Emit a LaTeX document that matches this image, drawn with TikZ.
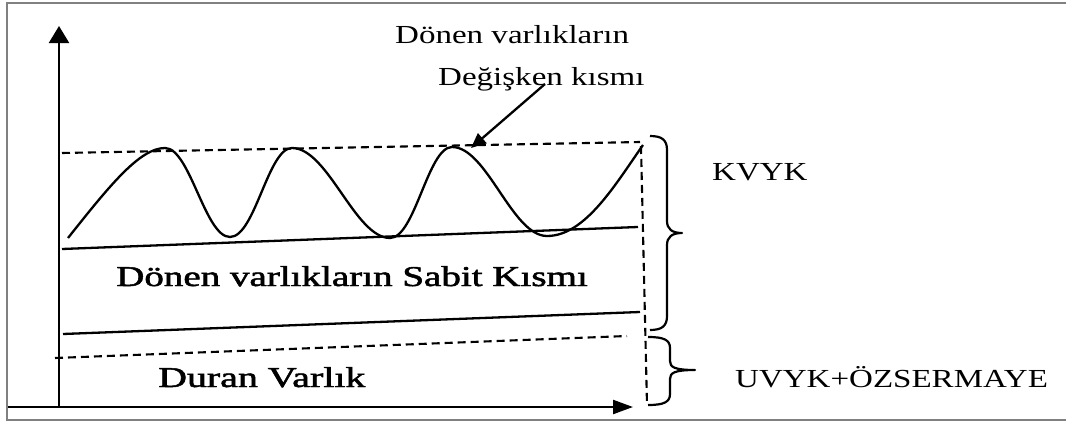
\documentclass[tikz,border=0pt]{standalone}
\usepackage{fontspec}
\setmainfont{Liberation Serif}
\newfontfamily\semibold[FakeBold=1.6]{Liberation Serif}
\usetikzlibrary{arrows.meta}
\newcommand{\hstretch}[2][1.27]{\scalebox{#1}[1]{#2}}
\tikzset{
  lbl/.style={inner sep=0pt, anchor=base west, font=\fontsize{26}{26}\selectfont},
  biglbl/.style={inner sep=0pt, anchor=base west, font=\semibold\fontsize{28.7}{29}\selectfont},
  solidln/.style={line width=2.3pt, black},
  dashln/.style={line width=2.1pt, black, dash pattern=on 8pt off 5pt},
  axis/.style={line width=2.3pt, black},
  bracestyle/.style={line width=2.2pt, black, line join=round},
  framestyle/.style={line width=2pt, black!50},
}
\begin{document}
\begin{tikzpicture}[x=1pt,y=-1pt]
\useasboundingbox (0,0) rectangle (1066,423);
\fill[white] (0,0) rectangle (1066,423);
% frame
\draw[framestyle] (7,3) rectangle (1090,420);
% axes
\coordinate (o) at (59,407);
\coordinate (ytip) at (59,26);
\coordinate (xstart) at (8,407);
\coordinate (xtip) at (633,407);
\draw[axis, -{Triangle[length=17pt,width=20pt]}] (o) -- (ytip);
\draw[axis, -{Triangle[length=20pt,width=14pt]}] (xstart) -- (xtip);
% lines
\draw[dashln] (62,153) -- (640,142);
\draw[solidln] (62,249) -- (638,227);
\draw[solidln] (63,334) -- (640,312);
\draw[dashln] (55,358) -- (627,336);
\draw[dashln] (641,146) -- (647,405);
% wave
\draw[solidln, line join=round]
  (68,238) .. controls (110,185) and (140,148) .. (165,148)
  .. controls (190,148) and (205,237) .. (230,237)
  .. controls (255,237) and (268,148) .. (292,148)
  .. controls (328,148) and (355,238) .. (390,238)
  .. controls (415,238) and (428,147) .. (452,147)
  .. controls (487,147) and (512,236) .. (547,236)
  .. controls (585,236) and (615,185) .. (643,145);
% braces
\draw[bracestyle]
  (650,136) .. controls (662,136) and (667,140) .. (667,150) -- (667,221)
  .. controls (667,229) and (672,233) .. (682,233)
  .. controls (672,233) and (667,237) .. (667,245) -- (667,316)
  .. controls (667,326) and (662,330) .. (650,330);
\draw[bracestyle]
  (648,337) .. controls (664,337) and (670,340) .. (670,348) -- (670,361)
  .. controls (670,367) and (674,370) .. (695,370)
  .. controls (674,370) and (670,373) .. (670,379) -- (670,394)
  .. controls (670,402) and (664,405) .. (648,405);
% texts
\node[lbl] (t1) at (395,43) {\hstretch{Dönen varlıkların}};
\node[lbl] (t2) at (438,85) {\hstretch{Değişken kısmı}};
\node[lbl] (kvyk) at (712,180) {\hstretch{KVYK}};
\node[lbl] (uvyk) at (735,387) {\hstretch{UVYK+ÖZSERMAYE}};
\node[biglbl] (sabit) at (116,286) {\hstretch[1.36]{Dönen varlıkların Sabit Kısmı}};
\node[biglbl] (duran) at (158,387) {\hstretch[1.39]{Duran Varlık}};
% arrow
\coordinate (arrs) at (545,84);
\coordinate (arre) at (471,148);
\draw[solidln, -{Triangle[length=15pt,width=13pt]}] (arrs) -- (arre);
\end{tikzpicture}
\end{document}
